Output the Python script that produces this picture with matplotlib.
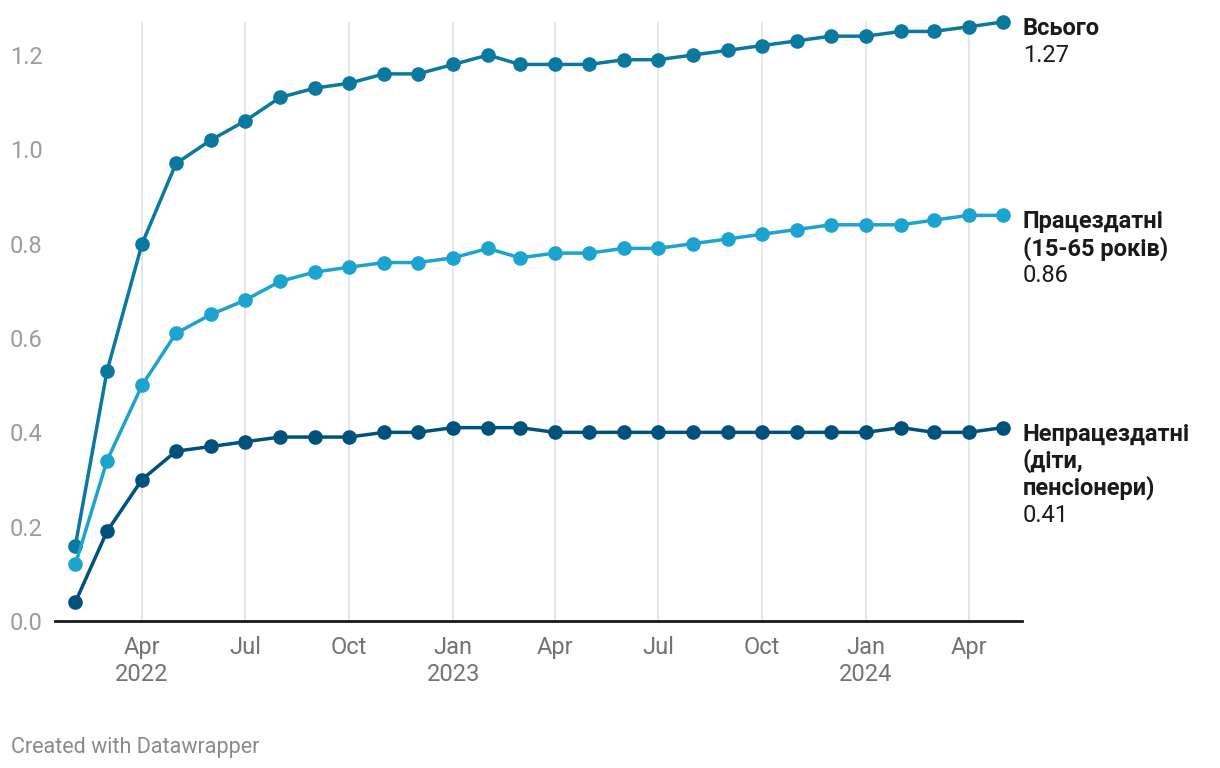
import matplotlib
matplotlib.use("Agg")
from matplotlib import pyplot as plt
import datetime

plt.rcParams['font.family'] = ['Roboto', 'DejaVu Sans']

months = ["2022-02", "2022-03", "2022-04", "2022-05", "2022-06", "2022-07", "2022-08",
          "2022-09", "2022-10", "2022-11", "2022-12", "2023-01", "2023-02", "2023-03",
          "2023-04", "2023-05", "2023-06", "2023-07", "2023-08", "2023-09", "2023-10",
          "2023-11", "2023-12", "2024-01", "2024-02", "2024-03", "2024-04", "2024-05"]

total = [0.16, 0.53, 0.80, 0.97, 1.02, 1.06, 1.11, 1.13, 1.14, 1.16, 1.16, 1.18, 1.20, 1.18,
         1.18, 1.18, 1.19, 1.19, 1.20, 1.21, 1.22, 1.23, 1.24, 1.24, 1.25, 1.25, 1.26, 1.27]
working = [0.12, 0.34, 0.50, 0.61, 0.65, 0.68, 0.72, 0.74, 0.75, 0.76, 0.76, 0.77, 0.79, 0.77,
           0.78, 0.78, 0.79, 0.79, 0.80, 0.81, 0.82, 0.83, 0.84, 0.84, 0.84, 0.85, 0.86, 0.86]
nonworking = [0.04, 0.19, 0.30, 0.36, 0.37, 0.38, 0.39, 0.39, 0.39, 0.40, 0.40, 0.41, 0.41, 0.41,
              0.40, 0.40, 0.40, 0.40, 0.40, 0.40, 0.40, 0.40, 0.40, 0.40, 0.41, 0.40, 0.40, 0.41]

labels = [["Всього"], ["Працездатні", "(15-65 років)"], ["Непрацездатні", "(діти,", "пенсіонери)"]]
colors = ["#0a789f", "#1ca3cf", "#00517c"]

tick_dates = ["2022-04", "2022-07", "2022-10", "2023-01", "2023-04", "2023-07",
              "2023-10", "2024-01", "2024-04"]
tick_labels = ["Apr\n2022", "Jul", "Oct", "Jan\n2023", "Apr", "Jul", "Oct", "Jan\n2024", "Apr"]
y_ticks = [0.0, 0.2, 0.4, 0.6, 0.8, 1.0, 1.2]

xs = [datetime.datetime.strptime(m, "%Y-%m") for m in months]

fig = plt.figure(figsize=(12.2, 7.68), dpi=100)
ax = fig.add_axes([55 / 1220, (768 - 621) / 768, (1022 - 55) / 1220, (621 - 22) / 768])

for ys, c in zip([total, working, nonworking], colors):
    ax.plot(xs, ys, color=c, lw=2.5, marker='o', ms=9.5, clip_on=False, zorder=3)

# labels at the end of each line, one text per line (27 px apart)
for ys, lines in zip([total, working, nonworking], labels):
    for i, line in enumerate(lines + [f"{ys[-1]:.2f}"]):
        bold = i < len(lines)
        ax.annotate(line, (xs[-1], ys[-1]), xytext=(14.4, (-13 - 27 * i) * 0.72),
                    textcoords='offset points', ha='left', va='baseline', fontsize=17,
                    fontweight='bold' if bold else 'normal', color='#1a1a1a',
                    annotation_clip=False)

ax.set_xlim(datetime.datetime(2022, 1, 14), datetime.datetime(2024, 5, 18))
ax.set_ylim(0, 1.27)

ax.set_xticks([datetime.datetime.strptime(t, "%Y-%m") for t in tick_dates])
ax.set_xticklabels(tick_labels, fontsize=17, color='#737373', linespacing=1.2)
ax.set_yticks(y_ticks)
ax.set_yticklabels([f"{v:.1f}" for v in y_ticks], fontsize=17, color='#9c9c9c')
ax.tick_params(axis='both', length=0)
ax.tick_params(axis='x', pad=11)
ax.tick_params(axis='y', pad=9)

ax.grid(axis='x', color='#e2e2e2', lw=1.2)
ax.set_axisbelow(True)
for s in ['top', 'right', 'left']:
    ax.spines[s].set_visible(False)
ax.spines['bottom'].set_color('#1a1a1a')
ax.spines['bottom'].set_linewidth(2)

fig.text(11 / 1220, 1 - 747 / 768, "Created with Datawrapper", fontsize=15.5,
         color='#8a8a8a', va='center', ha='left')

plt.savefig("out.png", dpi=100)
